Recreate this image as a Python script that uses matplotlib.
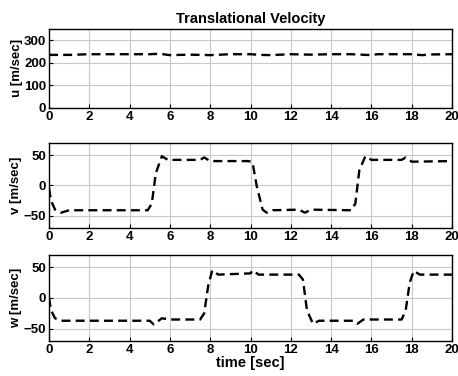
import matplotlib.pyplot as plt
import numpy as np

plt.rcParams['font.family'] = ['Liberation Sans', 'DejaVu Sans']
plt.rcParams['font.weight'] = 'bold'

# u velocity
t_u = [0, 1, 2, 3, 4, 5, 5.5, 6, 7, 8, 8.5, 9, 10, 10.5, 11, 12, 13, 14, 15, 16, 16.3, 17, 18, 18.5, 19, 20]
u = [235, 235, 238, 238, 238, 238, 240, 234, 236, 234, 236, 238, 238, 235, 234, 238, 236, 238, 238, 234, 238, 238, 238, 234, 237, 238]

# v velocity
t_v = [0, 0.1, 0.3, 0.6, 1.0, 4.9, 5.1, 5.3, 5.6, 5.9, 7.5, 7.7, 8.0, 9.9, 10.1, 10.3, 10.6,
       10.8, 11.1, 12.4, 12.7, 13.0, 15.0, 15.2, 15.4, 15.7, 16.0, 17.5, 17.7, 18.0, 20]
v = [-5, -25, -40, -45, -41, -41, -30, 20, 48, 42, 42, 46, 40, 40, 38, 0, -40,
     -45, -41, -40, -45, -40, -41, -30, 25, 48, 42, 42, 46, 39, 40]

# w velocity
t_w = [0, 0.1, 0.3, 0.6, 1, 5.0, 5.2, 5.6, 6.0, 7.5, 7.7, 7.9, 8.1, 8.4, 10.0, 10.1, 10.4, 12.4, 12.6, 12.8, 13.1, 13.4, 15.1, 15.3, 15.6, 17.5, 17.7, 17.9, 18.1, 18.4, 20]
w = [0, -20, -33, -37, -37, -37, -43, -33, -35, -35, -25, 20, 45, 38, 40, 45, 38, 38, 30, -20, -42, -37, -37, -42, -35, -35, -20, 25, 44, 38, 38]

xticks = np.arange(0, 21, 2)

fig = plt.figure(figsize=(4.58, 3.76), dpi=100)
ax1 = fig.add_axes([0.107, 0.713, 0.88, 0.21])
ax2 = fig.add_axes([0.107, 0.394, 0.88, 0.226])
ax3 = fig.add_axes([0.107, 0.093, 0.88, 0.229])

for ax, t, y, lab, lim, yt in [
        (ax1, t_u, u, 'u [m/sec]', (0, 350), [0, 100, 200, 300]),
        (ax2, t_v, v, 'v [m/sec]', (-70, 70), [-50, 0, 50]),
        (ax3, t_w, w, 'w [m/sec]', (-70, 70), [-50, 0, 50])]:
    ax.plot(t, y, 'k--', lw=1.7, dashes=(3.8, 2.2))
    ax.set_xlim(0, 20)
    ax.set_ylim(*lim)
    ax.set_xticks(xticks)
    ax.set_yticks(yt)
    ax.grid(True, color='#c8c8c8', lw=0.8)
    ax.tick_params(direction='in', labelsize=9.5, length=3, pad=2)
    ax.set_ylabel(lab, fontsize=9.5, fontweight='bold', labelpad=1)
    for s in ax.spines.values():
        s.set_linewidth(1.0)

ax1.set_title('Translational Velocity', fontsize=10.5, fontweight='bold', pad=4)
ax3.set_xlabel('time [sec]', fontsize=10.5, fontweight='bold', labelpad=0)

fig.savefig('out.png', dpi=100)
